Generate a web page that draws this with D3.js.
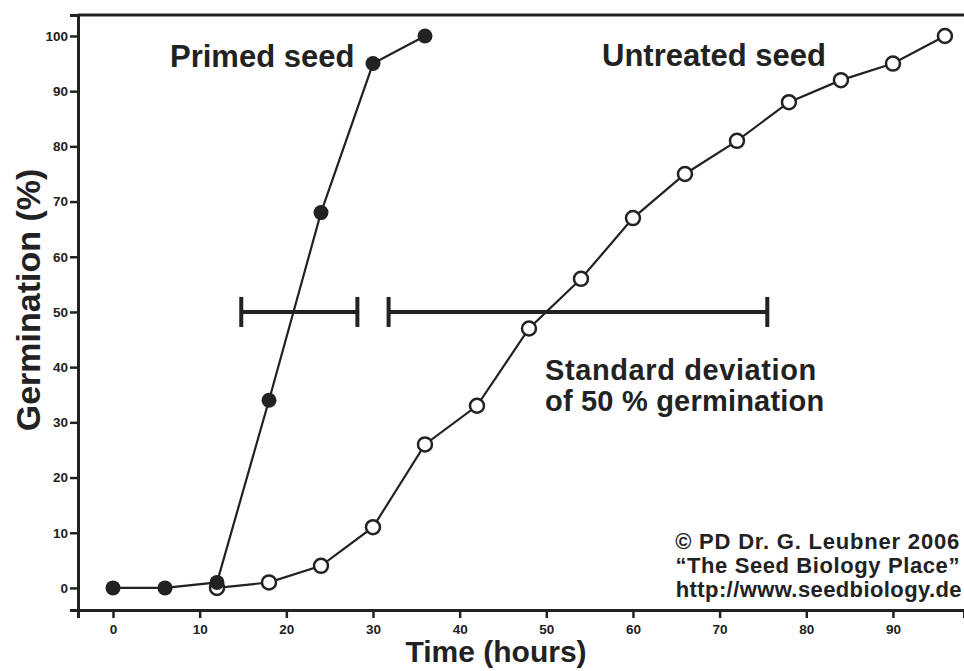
<!DOCTYPE html>
<html>
<head>
<meta charset="utf-8">
<script src="https://cdn.jsdelivr.net/npm/d3@7"></script>
<style>
  body { margin: 0; background: #fff; }
  svg { display: block; font-family: "Liberation Sans", Arial, sans-serif; }
  .tick text { font-weight: bold; font-size: 13.5px; fill: #222; }
</style>
</head>
<body>
<svg id="chart"></svg>
<script>
// hours
const primedTime = [0, 6, 12, 18, 24, 30, 36];
const primedGerm = [0, 0, 1, 34, 68, 95, 100];
const untreatedTime = [12, 18, 24, 30, 36, 42, 48, 54, 60, 66, 72, 78, 84, 90, 96];
const untreatedGerm = [0, 1, 4, 11, 26, 33, 47, 56, 67, 75, 81, 88, 92, 95, 100];
// standard deviation of 50 % germination: [from, to] hours
const sdPrimed = [14.8, 28.2];
const sdUntreated = [31.8, 75.5];
const xTicks = [0, 10, 20, 30, 40, 50, 60, 70, 80, 90];
const yTicks = [0, 10, 20, 30, 40, 50, 60, 70, 80, 90, 100];

const W = 964, H = 671;
const plotLeft = 78, plotTop = 15, plotBottom = 610;

const svg = d3.select('#chart').attr('width', W).attr('height', H);

const x = d3.scaleLinear().domain([-4.04, 98.2]).range([plotLeft, W]);
const y = d3.scaleLinear().domain([-4, 103.8]).range([plotBottom, plotTop]);

// frame (open on the right)
svg.append('line').attr('x1', plotLeft).attr('x2', W).attr('y1', plotTop).attr('y2', plotTop)
  .attr('stroke', '#222').attr('stroke-width', 3);

svg.append('g')
  .attr('transform', `translate(0,${plotBottom})`)
  .call(d3.axisBottom(x).tickValues(xTicks).tickSize(8).tickPadding(6).tickFormat(d3.format('d')))
  .call(g => g.select('.domain').attr('stroke-width', 3).attr('stroke', '#222'))
  .call(g => g.selectAll('.tick line').attr('stroke-width', 2.5).attr('stroke', '#222'));

svg.append('g')
  .attr('transform', `translate(${plotLeft},0)`)
  .call(d3.axisLeft(y).tickValues(yTicks).tickSize(8).tickPadding(2).tickFormat(d3.format('d')))
  .call(g => g.select('.domain').attr('stroke-width', 3).attr('stroke', '#222'))
  .call(g => g.selectAll('.tick line').attr('stroke-width', 2.5).attr('stroke', '#222'));

// axis titles
svg.append('text').attr('x', 496).attr('y', 662).attr('text-anchor', 'middle')
  .attr('font-size', 30).attr('font-weight', 'bold').attr('fill', '#222').text('Time (hours)');
svg.append('text').attr('transform', 'translate(40,300) rotate(-90)').attr('text-anchor', 'middle')
  .attr('font-size', 34).attr('font-weight', 'bold').attr('fill', '#222').text('Germination (%)');

// standard deviation bars
[sdPrimed, sdUntreated].forEach(sd => {
  const g = svg.append('g').attr('stroke', '#222').attr('stroke-width', 4);
  g.append('line').attr('x1', x(sd[0])).attr('x2', x(sd[1])).attr('y1', y(50)).attr('y2', y(50));
  sd.forEach(v => g.append('line').attr('x1', x(v)).attr('x2', x(v))
    .attr('y1', y(50) - 15).attr('y2', y(50) + 15));
});

const line = d3.line().x(d => x(d[0])).y(d => y(d[1]));
const primed = primedTime.map((t, i) => [t, primedGerm[i]]);
const untreated = untreatedTime.map((t, i) => [t, untreatedGerm[i]]);

svg.append('path').datum(untreated).attr('d', line).attr('fill', 'none')
  .attr('stroke', '#222').attr('stroke-width', 2.2);
svg.append('path').datum(primed).attr('d', line).attr('fill', 'none')
  .attr('stroke', '#222').attr('stroke-width', 2.2);

svg.selectAll('.open').data(untreated).enter().append('circle')
  .attr('cx', d => x(d[0])).attr('cy', d => y(d[1])).attr('r', 7)
  .attr('fill', '#fff').attr('stroke', '#222').attr('stroke-width', 2.5);
svg.selectAll('.filled').data(primed).enter().append('circle')
  .attr('cx', d => x(d[0])).attr('cy', d => y(d[1])).attr('r', 7.5)
  .attr('fill', '#222');

// labels
const lab = (tx, ty, s, size, anchor, ls) => svg.append('text').attr('x', tx).attr('y', ty)
  .attr('text-anchor', anchor || 'start').attr('font-size', size).attr('font-weight', 'bold')
  .attr('letter-spacing', ls || 0).attr('fill', '#222').text(s);
lab(170, 67, 'Primed seed', 31);
lab(602, 66, 'Untreated seed', 31);
lab(545, 380, 'Standard deviation', 29, 'start', 0.6);
lab(545, 411, 'of 50 % germination', 29, 'start', 0.2);
lab(960, 549, '\u00a9 PD Dr. G. Leubner 2006', 22, 'end', 0.8);
lab(960, 573, '\u201cThe Seed Biology Place\u201d', 22, 'end', 0.6);
lab(962, 597, 'http://www.seedbiology.de', 22, 'end', 0.4);
</script>
</body>
</html>
